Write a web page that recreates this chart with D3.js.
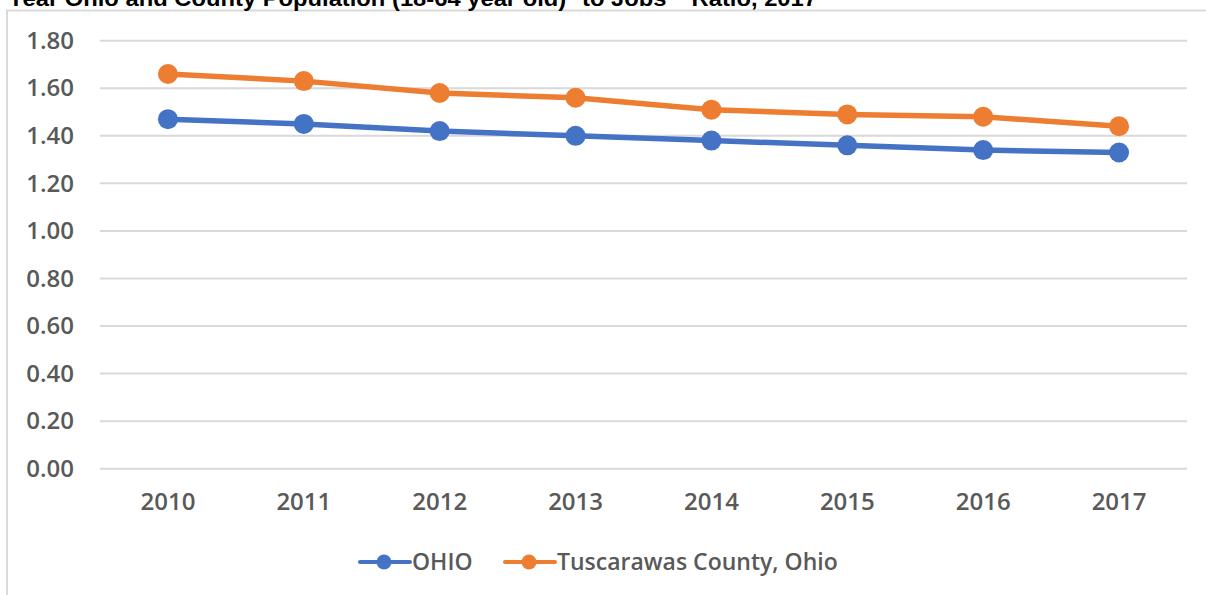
<!DOCTYPE html>
<html>
<head>
<meta charset="utf-8">
<script src="https://cdn.jsdelivr.net/npm/d3@7"></script>
<style>
  body { margin: 0; background: #fff; }
  svg { display: block; }
  .lbl { font-family: "Open Sans", "Liberation Sans", sans-serif; font-weight: 600; fill: #595959; }
</style>
</head>
<body>
<svg id="chart" width="1206" height="595"></svg>
<script>
const years = ['2010', '2011', '2012', '2013', '2014', '2015', '2016', '2017'];
const ohio = [1.47, 1.45, 1.42, 1.40, 1.38, 1.36, 1.34, 1.33];
const tuscarawas = [1.66, 1.63, 1.58, 1.56, 1.51, 1.49, 1.48, 1.44];
const yTicks = [0, 0.2, 0.4, 0.6, 0.8, 1.0, 1.2, 1.4, 1.6, 1.8];
const seriesNames = ['OHIO', 'Tuscarawas County, Ohio'];
const colors = ['#4472C4', '#ED7D31'];
const titleText = 'Year Ohio and County Population (18-64 year old)* to Jobs** Ratio, 2017';

const svg = d3.select('#chart');
const margin = {top: 40.7, left: 100, right: 19, bottom: 126.3};
const width = +svg.attr('width');
const height = +svg.attr('height');
const innerWidth = width - margin.left - margin.right;
const innerHeight = height - margin.top - margin.bottom;

// chart frame, only its top and left edges are in view
svg.append('path')
    .attr('d', 'M7,600 V10.5 H1210')
    .attr('fill', 'none')
    .attr('stroke', '#d9d9d9')
    .attr('stroke-width', 2);

// title, cut by the top of the picture
svg.append('text')
    .attr('x', 8)
    .attr('y', 6)
    .attr('textLength', 809)
    .attr('lengthAdjust', 'spacingAndGlyphs')
    .style('font-family', '"Liberation Sans", Arial, sans-serif')
    .style('font-weight', 'bold')
    .style('font-size', '22px')
    .attr('fill', '#000')
    .text(titleText);

const g = svg.append('g')
    .attr('transform', `translate(${margin.left}, ${margin.top})`);

const x = d3.scaleBand()
    .domain(years)
    .range([0, innerWidth]);

const y = d3.scaleLinear()
    .domain([0, 1.8])
    .range([innerHeight, 0]);

// grid
g.append('g')
    .selectAll('line')
    .data(yTicks)
    .enter().append('line')
        .attr('x1', 0)
        .attr('x2', innerWidth)
        .attr('y1', d => y(d))
        .attr('y2', d => y(d))
        .attr('stroke', '#d9d9d9')
        .attr('stroke-width', 2);

// y axis labels
const yAxis = g.append('g')
    .call(d3.axisLeft(y).tickValues(yTicks).tickFormat(d3.format('.2f')).tickSize(0).tickPadding(26));
yAxis.select('.domain').remove();
yAxis.selectAll('text')
    .attr('class', 'lbl')
    .attr('fill', null)
    .style('font-size', '24px');

// x axis labels
const xAxis = g.append('g')
    .attr('transform', `translate(0, ${innerHeight})`)
    .call(d3.axisBottom(x).tickSize(0).tickPadding(24));
xAxis.select('.domain').remove();
xAxis.selectAll('text')
    .attr('class', 'lbl')
    .attr('fill', null)
    .style('font-size', '24px');

const series = [ohio, tuscarawas];
const line = d3.line()
    .x((d, i) => x(years[i]) + x.bandwidth() / 2)
    .y(d => y(d));

series.forEach(function(values, k) {
    g.append('path')
        .datum(values)
        .attr('fill', 'none')
        .attr('stroke', colors[k])
        .attr('stroke-width', 5.5)
        .attr('stroke-linejoin', 'round')
        .attr('d', line);
    g.append('g')
        .selectAll('circle')
        .data(values)
        .enter().append('circle')
            .attr('cx', (d, i) => x(years[i]) + x.bandwidth() / 2)
            .attr('cy', d => y(d))
            .attr('r', 10)
            .attr('fill', colors[k]);
});

// legend
const legendX = [360, 505];
const legend = svg.selectAll('.legend').data(seriesNames)
    .enter().append('g')
    .attr('class', 'legend')
    .attr('transform', (d, i) => `translate(${legendX[i]}, 562)`);

legend.append('line')
    .attr('x1', 0).attr('x2', 50)
    .attr('stroke', (d, i) => colors[i])
    .attr('stroke-width', 4)
    .attr('stroke-linecap', 'round');
legend.append('circle')
    .attr('cx', 24)
    .attr('r', 7.5)
    .attr('fill', (d, i) => colors[i]);
legend.append('text')
    .attr('class', 'lbl')
    .attr('x', 52)
    .attr('dy', '0.35em')
    .style('font-size', '23px')
    .text(d => d);
</script>
</body>
</html>
